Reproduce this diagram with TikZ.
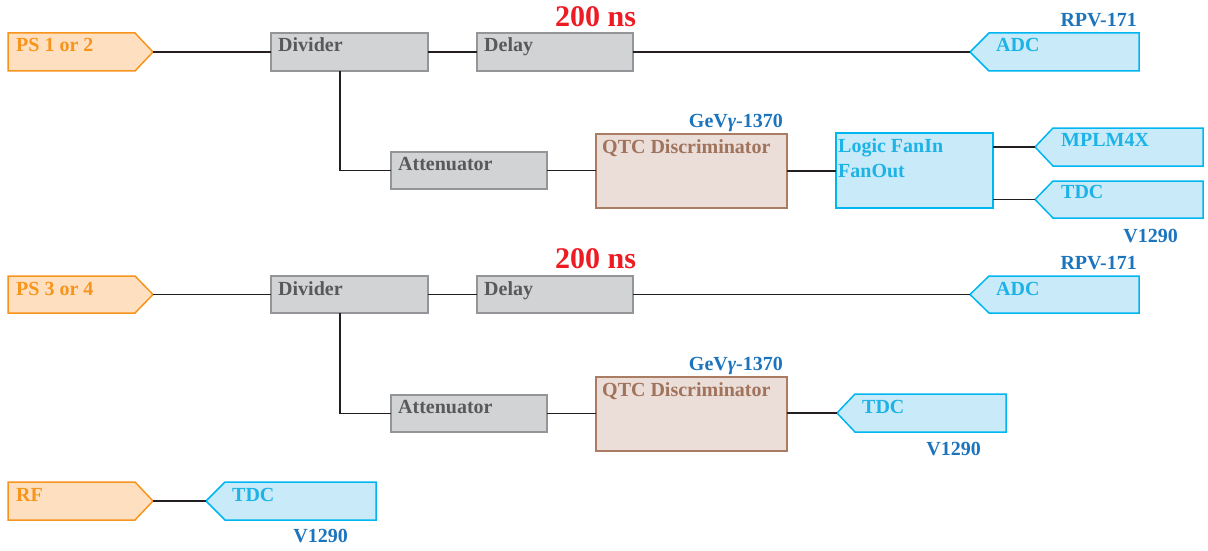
\documentclass[tikz,border=0pt]{standalone}
\usepackage{fontspec}
\setmainfont{Liberation Serif}
\definecolor{orFill}{HTML}{FEE0C0}
\definecolor{orLine}{HTML}{F7941D}
\definecolor{grFill}{HTML}{D1D3D4}
\definecolor{grLine}{HTML}{939598}
\definecolor{grText}{HTML}{58595B}
\definecolor{brFill}{HTML}{EBDDD7}
\definecolor{brLine}{HTML}{A97C63}
\definecolor{brText}{HTML}{A0735C}
\definecolor{blFill}{HTML}{C8EAF9}
\definecolor{blLine}{HTML}{00B6F0}
\definecolor{blText}{HTML}{1DB3E6}
\definecolor{lbBlue}{HTML}{1C75BC}
\definecolor{rdText}{HTML}{ED1C24}
\definecolor{wire}{HTML}{231F20}
\begin{document}
\begin{tikzpicture}[x=1pt,y=-1pt,
  box/.style={draw, line width=1.5pt, inner sep=0pt, outer sep=0pt, anchor=north west},
  graybox/.style={box, fill=grFill, draw=grLine},
  brownbox/.style={box, fill=brFill, draw=brLine},
  bluebox/.style={box, fill=blFill, draw=blLine},
  orpent/.style={line width=1.5pt, fill=orFill, draw=orLine, line join=miter},
  blpent/.style={line width=1.5pt, fill=blFill, draw=blLine, line join=miter},
  txt/.style={anchor=base west, inner sep=0pt, font=\fontsize{20}{24}\selectfont\bfseries},
  lbl/.style={anchor=base east, inner sep=0pt, font=\fontsize{20}{24}\selectfont\bfseries, text=lbBlue},
  delaylbl/.style={anchor=base west, inner sep=0pt, font=\fontsize{30}{36}\selectfont\bfseries, text=rdText},
  wirestyle/.style={line width=1.6pt, draw=wire}
]
\useasboundingbox (0,0) rectangle (1208,551);

% ---------- sources (pointing right) ----------
\draw[orpent] (8,33) -- (135,33) -- (153,52) -- (135,71) -- (8,71) -- cycle;
\coordinate (ps1) at (153,52);
\node[txt, text=orLine] (ps1t) at (16,52) {PS 1 or 2};

\draw[orpent] (8,276) -- (135,276) -- (153,294.5) -- (135,313) -- (8,313) -- cycle;
\coordinate (ps2) at (153,294.5);
\node[txt, text=orLine] (ps2t) at (16,295) {PS 3 or 4};

\draw[orpent] (8,482) -- (135,482) -- (153,501) -- (135,520) -- (8,520) -- cycle;
\coordinate (rf) at (153,501);
\node[txt, text=orLine] (rft) at (16,501) {RF};

% ---------- receivers (pointing left) ----------
\draw[blpent] (970,52) -- (989,33) -- (1139,33) -- (1139,71) -- (989,71) -- cycle;
\coordinate (adc1) at (970,52);
\node[txt, text=blText] (adc1t) at (996,52) {ADC};

\draw[blpent] (1035,147) -- (1053,128) -- (1203,128) -- (1203,166) -- (1053,166) -- cycle;
\coordinate (mplm) at (1035,147);
\node[txt, text=blText] (mplmt) at (1061,146) {MPLM4X};

\draw[blpent] (1035,199.5) -- (1053,181) -- (1203,181) -- (1203,218) -- (1053,218) -- cycle;
\coordinate (tdc1) at (1035,199.5);
\node[txt, text=blText] (tdc1t) at (1061,198) {TDC};

\draw[blpent] (970,294.5) -- (989,276) -- (1139,276) -- (1139,313) -- (989,313) -- cycle;
\coordinate (adc2) at (970,294.5);
\node[txt, text=blText] (adc2t) at (996,295) {ADC};

\draw[blpent] (837,413) -- (855,394) -- (1006,394) -- (1006,432) -- (855,432) -- cycle;
\coordinate (tdc2) at (837,413);
\node[txt, text=blText] (tdc2t) at (862,413) {TDC};

\draw[blpent] (206,501) -- (225,482) -- (376,482) -- (376,520) -- (225,520) -- cycle;
\coordinate (tdc3) at (206,501);
\node[txt, text=blText] (tdc3t) at (232,501) {TDC};

% ---------- boxes ----------
\node[graybox, minimum width=157, minimum height=38] (div1) at (271,33) {};
\node[txt, text=grText] at (278,52) {Divider};
\node[graybox, minimum width=156, minimum height=38] (del1) at (477,33) {};
\node[txt, text=grText] at (484,52) {Delay};
\node[graybox, minimum width=156, minimum height=37] (att1) at (391,152) {};
\node[txt, text=grText] at (398,170) {Attenuator};
\node[brownbox, minimum width=191, minimum height=74] (qtc1) at (596,134) {};
\node[txt, text=brText] at (602,153) {QTC Discriminator};
\node[bluebox, minimum width=157, minimum height=75] (logic) at (836,133) {};
\node[txt, text=blText, align=left, anchor=base west] at (838,152) {Logic FanIn};
\node[txt, text=blText, anchor=base west] at (838,177) {FanOut};

\node[graybox, minimum width=157, minimum height=37] (div2) at (271,276) {};
\node[txt, text=grText] at (278,295) {Divider};
\node[graybox, minimum width=156, minimum height=37] (del2) at (477,276) {};
\node[txt, text=grText] at (484,295) {Delay};
\node[graybox, minimum width=156, minimum height=37] (att2) at (391,395) {};
\node[txt, text=grText] at (398,413) {Attenuator};
\node[brownbox, minimum width=191, minimum height=74] (qtc2) at (596,377) {};
\node[txt, text=brText] at (602,396) {QTC Discriminator};

% ---------- labels ----------
\node[delaylbl] (d1) at (555,27) {200 ns};
\node[delaylbl] (d2) at (555,268) {200 ns};
\node[lbl] (r1) at (1137,27) {RPV-171};
\node[lbl] (r2) at (1137,269) {RPV-171};
\node[lbl] (g1) at (783,127) {GeV{\itshape γ}-1370};
\node[lbl] (g2) at (783,370) {GeV{\itshape γ}-1370};
\node[lbl] (v1) at (1178,242) {V1290};
\node[lbl] (v2) at (981,455) {V1290};
\node[lbl] (v3) at (348,542) {V1290};

% ---------- connectors ----------
\draw[wirestyle] (ps1) -- (div1.west);
\draw[wirestyle] (div1.east) -- (del1.west);
\draw[wirestyle] (del1.east) -- (adc1);
\draw[wirestyle] ([xshift=69pt]div1.south west) |- (att1.west);
\draw[wirestyle] (att1.east) -- (qtc1.west |- att1.east);
\draw[wirestyle] (qtc1.east) -- (logic.west |- qtc1.east);
\draw[wirestyle] (logic.east |- mplm) -- (mplm);
\draw[wirestyle] (logic.east |- tdc1) -- (tdc1);

\draw[wirestyle] (ps2) -- (div2.west);
\draw[wirestyle] (div2.east) -- (del2.west);
\draw[wirestyle] (del2.east) -- (adc2);
\draw[wirestyle] ([xshift=69pt]div2.south west) |- (att2.west);
\draw[wirestyle] (att2.east) -- (qtc2.west |- att2.east);
\draw[wirestyle] (qtc2.east |- tdc2) -- (tdc2);

\draw[wirestyle] (rf) -- (tdc3);
\end{tikzpicture}
\end{document}
